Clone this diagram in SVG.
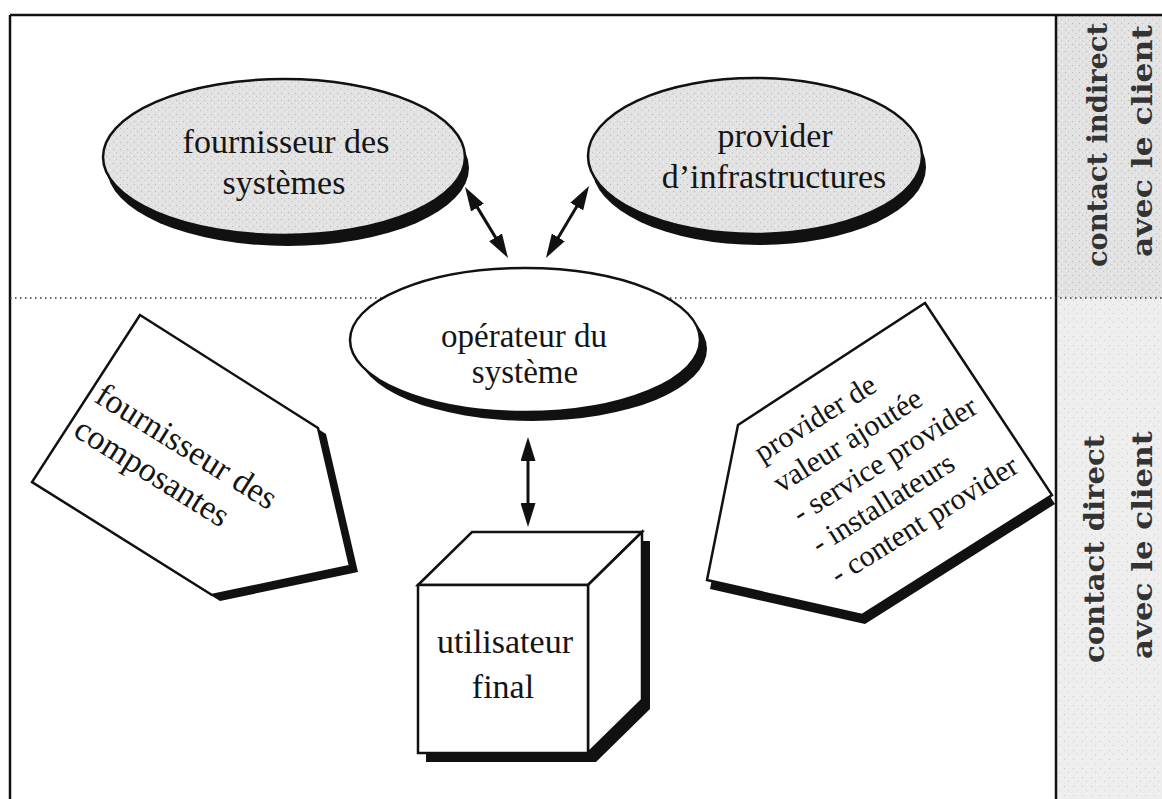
<svg xmlns="http://www.w3.org/2000/svg" width="1162" height="799" viewBox="0 0 1162 799">
<defs>
<style>
.txt{font-family:"Liberation Serif","Times New Roman",serif;fill:#151515}
.c{text-anchor:middle}
.side{font-family:"DejaVu Serif",serif;font-size:28px;font-weight:bold;fill:#333;text-anchor:middle}
.shade{fill:#111}
.oval{fill:url(#stipple);stroke:#111;stroke-width:2.5}
.white{fill:#fff;stroke:#111;stroke-width:2.5;stroke-linejoin:miter}
.conn{stroke:#111;stroke-width:3;fill:none;marker-start:url(#ah);marker-end:url(#ah)}
.frame{stroke:#111;stroke-width:2.5;fill:none}
.dots{stroke:#333;stroke-width:1.5;stroke-dasharray:1.5 3.5}
</style>
<pattern id="stipple" width="7" height="7" patternUnits="userSpaceOnUse">
<rect width="7" height="7" fill="#e2e2e2"/>
<rect x="1" y="2" width="1" height="1" fill="#b8b8b8"/>
<rect x="4" y="5" width="1" height="1" fill="#c4c4c4"/>
<rect x="5" y="1" width="1" height="1" fill="#f4f4f4"/>
<rect x="2" y="5" width="1" height="1" fill="#f2f2f2"/>
</pattern>
<pattern id="stipple2" width="9" height="9" patternUnits="userSpaceOnUse">
<rect width="9" height="9" fill="#eeeeee"/>
<rect x="2" y="3" width="1" height="1" fill="#c8c8c8"/>
<rect x="6" y="7" width="1" height="1" fill="#d0d0d0"/>
<rect x="7" y="1" width="1" height="1" fill="#fafafa"/>
</pattern>
<marker id="ah" viewBox="0 0 24 15" refX="14" refY="7.5" markerUnits="userSpaceOnUse" markerWidth="24" markerHeight="15" orient="auto-start-reverse"><path d="M0,0 L24,7.5 L0,15 z" fill="#111"/></marker>
</defs>
<rect width="1162" height="799" fill="#fff"/>
<g id="side-column">
<rect x="1056" y="15" width="106" height="283" fill="url(#stipple)"/>
<rect x="1056" y="298" width="106" height="501" fill="url(#stipple2)"/>
<text class="side" transform="translate(1107,145) rotate(-90)" textLength="244" lengthAdjust="spacingAndGlyphs">contact indirect</text>
<text class="side" transform="translate(1152,141) rotate(-90)" textLength="232" lengthAdjust="spacingAndGlyphs">avec le client</text>
<text class="side" transform="translate(1104,549) rotate(-90)" textLength="228" lengthAdjust="spacingAndGlyphs">contact direct</text>
<text class="side" transform="translate(1152,545) rotate(-90)" textLength="228" lengthAdjust="spacingAndGlyphs">avec le client</text>
</g>
<g id="frame">
<line class="frame" x1="10" y1="15" x2="1162" y2="15"/>
<line class="frame" x1="10" y1="15" x2="10" y2="799"/>
<line class="frame" x1="1056" y1="15" x2="1056" y2="799"/>
<line class="dots" x1="10" y1="298" x2="1162" y2="298"/>
</g>
<g id="node-fournisseur-systemes">
<ellipse class="shade" cx="288" cy="168" rx="181" ry="78"/>
<ellipse class="oval" cx="284" cy="157" rx="181" ry="78"/>
<text class="txt c" x="286" y="153" font-size="34">fournisseur des</text>
<text class="txt c" x="284" y="194" font-size="34">systèmes</text>
</g>
<g id="node-provider-infra">
<ellipse class="shade" cx="759" cy="167" rx="167" ry="78"/>
<ellipse class="oval" cx="755" cy="156" rx="167" ry="78"/>
<text class="txt c" x="775" y="147" font-size="34">provider</text>
<text class="txt c" x="774" y="188" font-size="34">d’infrastructures</text>
</g>
<g id="node-operateur">
<ellipse class="shade" cx="532" cy="349" rx="175" ry="72"/>
<ellipse class="white" cx="525" cy="340" rx="175" ry="72"/>
<text class="txt c" x="524" y="347" font-size="33">opérateur du</text>
<text class="txt c" x="525" y="383" font-size="33">système</text>
</g>
<g id="node-composantes">
<polygon class="shade" points="148,321 326,434 358,572 220,601 40,488"/>
<polygon class="white" points="140,315 318,428 350,566 212,595 32,482"/>
<g transform="translate(93,401) rotate(32)">
<text class="txt" x="0" y="0" font-size="34">fournisseur des</text>
<text class="txt" x="0" y="40" font-size="34">composantes</text>
</g>
</g>
<g id="node-valeur-ajoutee">
<polygon class="shade" points="928,312 1055,504 865,624 710,589 741,434"/>
<polygon class="white" points="925,303 1052,495 862,615 707,580 738,425"/>
<g transform="translate(762,463) rotate(-32)">
<text class="txt" x="0" y="0" font-size="30">provider de</text>
<text class="txt" x="0" y="36" font-size="30">valeur ajoutée</text>
<text class="txt" x="0" y="72" font-size="30">- service provider</text>
<text class="txt" x="0" y="108" font-size="30">- installateurs</text>
<text class="txt" x="0" y="144" font-size="30">- content provider</text>
</g>
</g>
<g id="node-utilisateur">
<polygon class="shade" points="426,594 480,541 650,541 650,709 596,762 426,762"/>
<polygon class="white" points="418,585 472,532 642,532 588,585"/>
<polygon class="white" points="588,585 642,532 642,700 588,753"/>
<rect class="white" x="418" y="585" width="170" height="168"/>
<text class="txt c" x="505" y="653" font-size="34">utilisateur</text>
<text class="txt c" x="503" y="698" font-size="34">final</text>
</g>
<g id="connectors">
<line class="conn" x1="470.2" y1="195.6" x2="502.8" y2="249.4"/>
<line class="conn" x1="551.1" y1="249.4" x2="583.9" y2="194.6"/>
<line class="conn" x1="528" y1="447" x2="528" y2="517"/>
</g>
</svg>
